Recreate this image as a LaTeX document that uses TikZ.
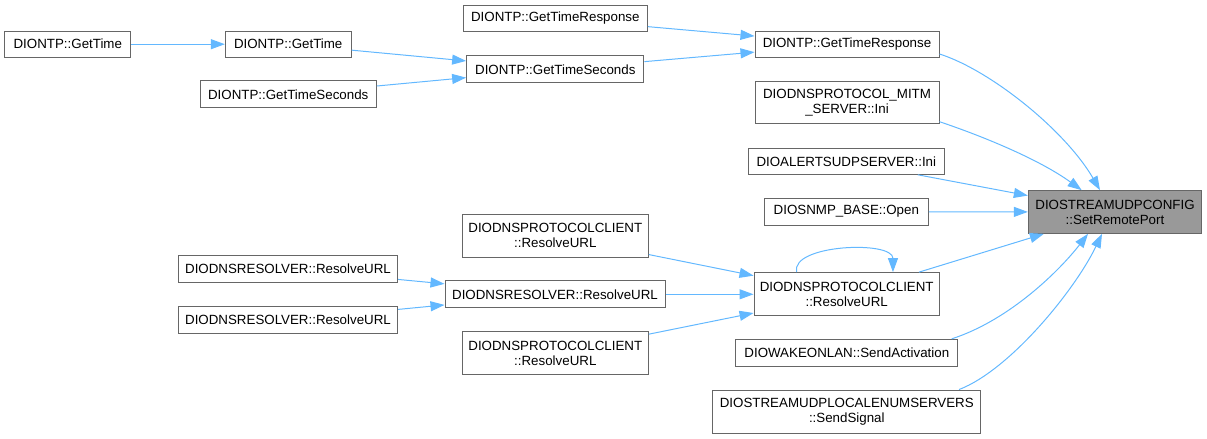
\documentclass[tikz,border=0pt]{standalone}
\usepackage{fontspec}
\setmainfont{Liberation Sans}
\usetikzlibrary{arrows.meta}
\definecolor{edgeblue}{HTML}{63B8FF}
\definecolor{boxborder}{HTML}{666666}
\definecolor{targetfill}{HTML}{999999}
\tikzset{
  fn/.style={draw=boxborder, line width=0.75pt, rectangle, inner sep=0pt, align=center,
    font=\fontsize{10pt}{11.25pt}\selectfont, fill=white},
  target/.style={fn, fill=targetfill},
  call/.style={draw=edgeblue, line width=0.75pt, -{Triangle[length=10.5pt,width=7.5pt]}},
}
\begin{document}
\begin{tikzpicture}[x=0.75pt,y=-0.75pt]
\path[use as bounding box] (0,0) rectangle (1207,439);

\node[fn, minimum width=94.3pt, minimum height=19.7pt] (A) at (67.8,44.2) {DIONTP::GetTime};
\node[fn, minimum width=94.3pt, minimum height=19.7pt] (B) at (288.2,44.2) {DIONTP::GetTime};
\node[fn, minimum width=132.2pt, minimum height=20pt] (C) at (288.2,94.3) {DIONTP::GetTimeSeconds};
\node[fn, minimum width=133pt, minimum height=20pt] (D) at (555.3,69.3) {DIONTP::GetTimeSeconds};
\node[fn, minimum width=138pt, minimum height=20.2pt] (E) at (555.3,18.5) {DIONTP::GetTimeResponse};
\node[fn, minimum width=138pt, minimum height=19.7pt] (F) at (847,44.2) {DIONTP::GetTimeResponse};
\node[fn, minimum width=138pt, minimum height=32.2pt] (G) at (847,102.5) {DIODNSPROTOCOL\_MITM\\\_SERVER::Ini};
\node[fn, minimum width=147pt, minimum height=19.5pt] (H) at (846.3,161.3) {DIOALERTSUDPSERVER::Ini};
\node[fn, minimum width=123pt, minimum height=20pt] (I) at (846.3,211.7) {DIOSNMP\_BASE::Open};
\node[target, minimum width=130pt, minimum height=32pt] (T) at (1115,212) {DIOSTREAMUDPCONFIG\\::SetRemotePort};
\node[fn, minimum width=139.5pt, minimum height=32.2pt] (J) at (555.3,235.8) {DIODNSPROTOCOLCLIENT\\::ResolveURL};
\node[fn, minimum width=165pt, minimum height=20pt] (K) at (555,294.3) {DIODNSRESOLVER::ResolveURL};
\node[fn, minimum width=164.5pt, minimum height=20pt] (L) at (288,269) {DIODNSRESOLVER::ResolveURL};
\node[fn, minimum width=164.5pt, minimum height=20pt] (M) at (288,320) {DIODNSRESOLVER::ResolveURL};
\node[fn, minimum width=139.5pt, minimum height=32.2pt] (N) at (555.3,353) {DIODNSPROTOCOLCLIENT\\::ResolveURL};
\node[fn, minimum width=139pt, minimum height=32.5pt] (O) at (846.7,294.3) {DIODNSPROTOCOLCLIENT\\::ResolveURL};
\node[fn, minimum width=166.3pt, minimum height=20.5pt] (P) at (846.8,353) {DIOWAKEONLAN::SendActivation};
\node[fn, minimum width=201.2pt, minimum height=32.5pt] (Q) at (846.8,411.7) {DIOSTREAMUDPLOCALENUMSERVERS\\::SendSignal};

% left part
\draw[call] (A) -- (B);
\draw[call] (B) -- (D);
\draw[call] (C) -- (D);
\draw[call] (E) -- (F);
\draw[call] (D) -- (F);
\draw[call] (L) -- (K);
\draw[call] (M) -- (K);
\draw[call] (J) -- (O);
\draw[call] (K) -- (O);
\draw[call] (N) -- (O);
\draw[call] ([xshift=-37.5pt]O.north) .. controls +(-6.7,-27.7) and +(0,-32) .. ([xshift=34.7pt]O.north);

% into target
\draw[call] ([yshift=-7.35pt]F.east) .. controls (990,70) and (1065,130) .. ([xshift=-11.25pt]T.north);
\draw[call] ([yshift=-14.4pt]G.east) .. controls (985,137) and (1040,160) .. ([xshift=-25pt]T.north);
\draw[call] (H) -- (T);
\draw[call] (I) -- (T);
\draw[call] (O) -- (T);
\draw[call] ([xshift=78.7pt]P.north) .. controls (1010,320) and (1060,270) .. ([xshift=-20.25pt]T.south);
\draw[call] ([xshift=84.2pt]Q.north) .. controls (1010,370) and (1075,290) .. ([xshift=-9.75pt]T.south);
\end{tikzpicture}
\end{document}
